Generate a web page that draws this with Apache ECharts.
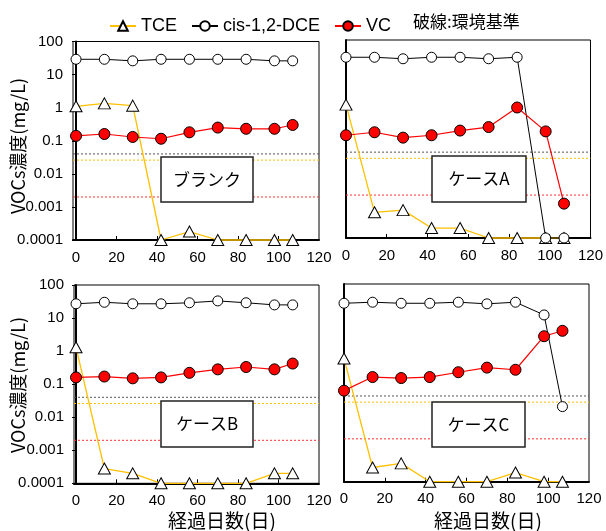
<!DOCTYPE html>
<html><head><meta charset="utf-8">
<script src="https://cdn.jsdelivr.net/npm/echarts@6/dist/echarts.min.js"></script>
<style>html,body{margin:0;padding:0;background:#fff}#c{width:606px;height:531px}</style>
</head><body><div id="c"></div>
<script>
const days = [0, 14, 28, 42, 56, 70, 84, 98, 107];
const xTicks = [0, 20, 40, 60, 80, 100, 120];
const yTickLabels = ['0.0001', '0.001', '0.01', '0.1', '1', '10', '100'];

const tceBlank = [1.1, 1.35, 1.15, 0.0001, 0.00018, 0.0001, 0.0001, 0.0001, 0.0001];
const cisBlank = [29, 29, 26, 29, 29, 29, 29, 26, 26];
const vcBlank  = [0.14, 0.16, 0.13, 0.115, 0.18, 0.25, 0.23, 0.23, 0.30];

const tceA = [1.1, 0.0006, 0.0007, 0.0002, 0.0002, 0.0001, 0.0001, 0.0001, 0.0001];
const cisA = [30, 30, 27, 30, 30, 27, 30, 0.0001, 0.0001];
const vcA  = [0.13, 0.16, 0.11, 0.13, 0.18, 0.23, 0.9, 0.17, 0.0011];

const tceB = [1.3, 0.00028, 0.0002, 0.0001, 0.0001, 0.0001, 0.0001, 0.0002, 0.0002];
const cisB = [27, 30, 27, 27, 29, 33, 29, 25, 25];
const vcB  = [0.16, 0.17, 0.15, 0.16, 0.22, 0.28, 0.33, 0.28, 0.42];

const tceC = [0.55, 0.00027, 0.00036, 0.0001, 0.0001, 0.0001, 0.00019, 0.0001, 0.0001];
const cisC = [26, 28, 26, 26, 28, 25, 28, 11.5, 0.019];
const vcC  = [0.058, 0.15, 0.14, 0.15, 0.21, 0.29, 0.25, 2.6, 3.8];

const panelNames = ['ブランク', 'ケースA', 'ケースB', 'ケースC'];
const seriesNames = ['TCE', 'cis-1,2-DCE', 'VC'];
const envStdValues = [0.04, 0.026, 0.002];
const envStdColors = ['#555555', '#FFC000', '#FF3030'];
const yTitle = 'VOCs濃度(mg/L)';
const xTitle = '経過日数(日)';
const noteText = '破線:環境基準';

const LAT = "'Liberation Sans', Arial, 'Noto Sans', sans-serif";
const JP = "'Noto Sans CJK JP', sans-serif";

const panels = [
  {tce: tceBlank, cis: cisBlank, vc: vcBlank, grid: {left: 73, top: 41.5, width: 246, height: 198.5}, xMin: -1.5, yLab: true, box: [161, 157, 92, 45]},
  {tce: tceA, cis: cisA, vc: vcA, grid: {left: 346, top: 40, width: 245.5, height: 198}, xMin: 0, yLab: false, box: [432, 156, 94, 46]},
  {tce: tceB, cis: cisB, vc: vcB, grid: {left: 74, top: 285, width: 245, height: 198.3}, xMin: -1, yLab: true, box: [161, 401, 92, 46]},
  {tce: tceC, cis: cisC, vc: vcC, grid: {left: 344, top: 284, width: 245, height: 197.7}, xMin: 0, yLab: false, box: [432, 402, 93, 45]}
];

const grids = [], xAxes = [], yAxes = [], series = [], graphics = [];
panels.forEach((p, i) => {
  grids.push(Object.assign({show: true, borderColor: '#000', borderWidth: 1, backgroundColor: 'transparent'}, p.grid));
  xAxes.push({
    type: 'value', gridIndex: i, min: p.xMin, max: 120,
    axisLine: {show: true, onZero: false, lineStyle: {color: '#000', width: 2}},
    axisTick: {show: true, inside: true, length: 4, customValues: xTicks.slice(1, 6), lineStyle: {color: '#000', width: 1}},
    axisLabel: {show: true, customValues: xTicks, margin: 10, fontSize: 15, color: '#000', fontFamily: LAT},
    splitLine: {show: false}
  });
  yAxes.push({
    type: 'log', logBase: 10, gridIndex: i, min: 0.0001, max: 100,
    axisLine: {show: true, lineStyle: {color: '#000', width: 2}},
    axisTick: {show: p.yLab, length: 4, lineStyle: {color: '#000'}},
    axisLabel: {show: p.yLab, margin: 10, fontSize: 15, color: '#000', fontFamily: LAT,
      formatter: v => yTickLabels[Math.round(Math.log10(v)) + 4]},
    splitLine: {show: false}, minorTick: {show: false}
  });
  envStdValues.forEach((v, k) => {
    series.push({
      name: 'std' + k, type: 'line', xAxisIndex: i, yAxisIndex: i, silent: true,
      data: [[p.xMin, v], [120, v]], symbol: 'none', z: 1,
      lineStyle: {color: envStdColors[k], type: [2, 2], width: 1}
    });
  });
  const mk = arr => days.map((d, k) => [d, arr[k]]);
  series.push({
    name: seriesNames[0], type: 'line', xAxisIndex: i, yAxisIndex: i, data: mk(p.tce), clip: false,
    symbol: 'triangle', symbolSize: [12, 11], z: 3,
    lineStyle: {color: '#FFC000', width: 1.3},
    itemStyle: {color: '#fff', borderColor: '#000', borderWidth: 1}
  });
  series.push({
    name: seriesNames[1], type: 'line', xAxisIndex: i, yAxisIndex: i, data: mk(p.cis), clip: false,
    symbol: 'circle', symbolSize: 10, z: 4,
    lineStyle: {color: '#000', width: 1},
    itemStyle: {color: '#fff', borderColor: '#000', borderWidth: 1}
  });
  series.push({
    name: seriesNames[2], type: 'line', xAxisIndex: i, yAxisIndex: i, data: mk(p.vc), clip: false,
    symbol: 'circle', symbolSize: 11, z: 5,
    lineStyle: {color: '#FF0000', width: 1.2},
    itemStyle: {color: '#FF0000', borderColor: '#000', borderWidth: 1}
  });
  const b = p.box;
  graphics.push({type: 'rect', z: 10, shape: {x: b[0], y: b[1], width: b[2], height: b[3]},
    style: {fill: '#fff', stroke: '#222', lineWidth: 1.5}});
  graphics.push({type: 'text', z: 11, x: b[0] + b[2] / 2, y: b[1] + b[3] / 2,
    style: {text: panelNames[i], fill: '#000', font: "17px " + JP, align: 'center', verticalAlign: 'middle'}});
});

graphics.push({type: 'text', x: 413, y: 22, style: {text: noteText, fill: '#000', font: '17px ' + JP, verticalAlign: 'middle'}});
[146, 385].forEach(cy => graphics.push({type: 'text', x: 18, y: cy, rotation: Math.PI / 2,
  style: {text: yTitle, fill: '#000', font: '18px ' + JP, align: 'center', verticalAlign: 'middle'}}));
[222, 488].forEach(cx => graphics.push({type: 'text', x: cx, y: 521,
  style: {text: xTitle, fill: '#000', font: '19px ' + JP, align: 'center', verticalAlign: 'middle'}}));

const chart = echarts.init(document.getElementById('c'), null, {renderer: 'canvas'});
chart.setOption({
  animation: false,
  backgroundColor: '#fff',
  legend: {left: 104, top: 12, itemWidth: 26, itemHeight: 12, itemGap: 14,
    data: seriesNames, textStyle: {fontSize: 18, color: '#000', fontFamily: LAT}},
  grid: grids, xAxis: xAxes, yAxis: yAxes, series: series, graphic: graphics
});
</script></body></html>
